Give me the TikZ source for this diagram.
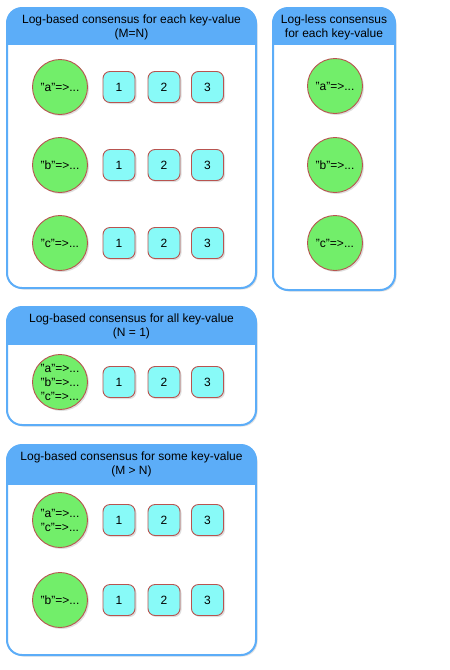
\documentclass[tikz,border=0pt]{standalone}
\usepackage{fontspec}
\setmainfont{Liberation Sans}
\usetikzlibrary{shadows}
\definecolor{hdr}{HTML}{5CADF8}
\definecolor{kvfill}{HTML}{72EE6A}
\definecolor{repfill}{HTML}{88FAF8}
\definecolor{redline}{HTML}{B85450}
\tikzset{
  shd/.style={drop shadow={opacity=0.25,shadow xshift=1.5pt,shadow yshift=-1.5pt}},
  kv/.style={circle,draw=redline,fill=kvfill,line width=0.9pt,minimum size=55pt,inner sep=0pt,
    font=\fontsize{12}{14}\selectfont,align=center,shd},
  rep/.style={rounded corners=7pt,draw=redline,fill=repfill,line width=0.9pt,minimum width=32pt,
    minimum height=31pt,inner sep=0pt,font=\fontsize{12}{14}\selectfont,shd},
  ttl/.style={font=\fontsize{12}{14}\selectfont,align=center,inner sep=0pt},
}
\newcommand{\mybox}[5]{%
  \fill[white,rounded corners=15pt,shd] (#1,#2) rectangle (#3,#4);
  \begin{scope}
    \clip[rounded corners=15pt] (#1,#2) rectangle (#3,#4);
    \fill[hdr] (#1,#2) rectangle (#3,#5);
  \end{scope}
  \draw[hdr,line width=2pt,rounded corners=15pt] (#1,#2) rectangle (#3,#4);
}
\begin{document}
\begin{tikzpicture}[x=1pt,y=-1pt]
\useasboundingbox (0,0) rectangle (450,670);
% containers
\mybox{7}{8}{256}{288}{45}
\node[ttl] (t1) at (131.5,27) {Log-based consensus for each key-value\\(M=N)};
\mybox{273}{8}{395}{290}{45}
\node[ttl] (t2) at (334,27) {Log-less consensus\\for each key-value};
\mybox{7}{307}{256}{425}{345}
\node[ttl] (t3) at (131.5,326) {Log-based consensus for all key-value\\(N = 1)};
\mybox{7}{445}{256}{655}{485}
\node[ttl] (t4) at (131.5,464) {Log-based consensus for some key-value\\(M > N)};
% box 1
\foreach \k/\y in {a/87,b/165,c/243}{
  \node[kv] (kv1\k) at (60,\y) {"\k"=>...};
  \node[rep] (r1\k1) at (119,\y) {1};
  \node[rep] (r1\k2) at (164,\y) {2};
  \node[rep] (r1\k3) at (207.5,\y) {3};
}
% box 2
\foreach \k/\y in {a/86,b/165,c/243}{
  \node[kv] (kv2\k) at (335,\y) {"\k"=>...};
}
% box 3
\node[kv] (kv3) at (60,382) {"a"=>...\\"b"=>...\\"c"=>...};
\node[rep] (r31) at (119,382) {1};
\node[rep] (r32) at (164,382) {2};
\node[rep] (r33) at (207.5,382) {3};
% box 4
\node[kv] (kv4ac) at (60,520) {"a"=>...\\"c"=>...};
\node[rep] (r4a1) at (119,520) {1};
\node[rep] (r4a2) at (164,520) {2};
\node[rep] (r4a3) at (207.5,520) {3};
\node[kv] (kv4b) at (60,600) {"b"=>...};
\node[rep] (r4b1) at (119,600) {1};
\node[rep] (r4b2) at (164,600) {2};
\node[rep] (r4b3) at (207.5,600) {3};
\end{tikzpicture}
\end{document}
